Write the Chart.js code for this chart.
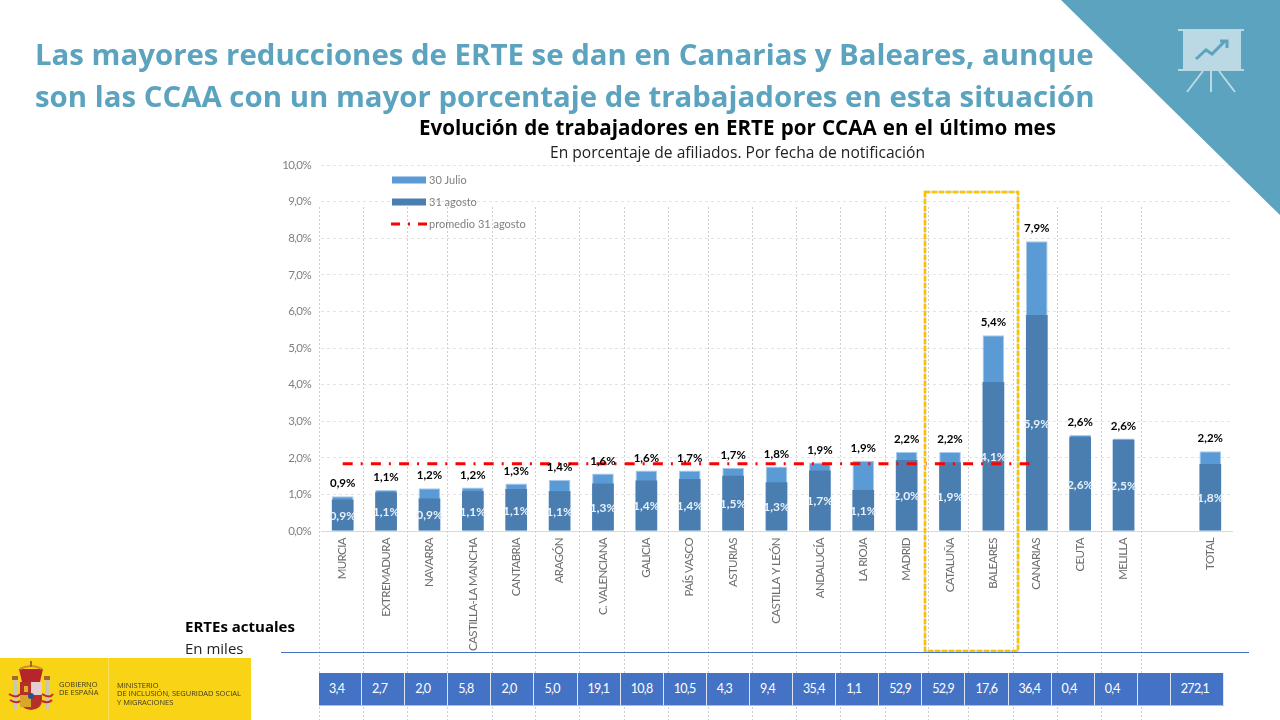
<!DOCTYPE html>
<html lang="es">
<head>
<meta charset="utf-8">
<title>ERTE por CCAA</title>
<script src="https://cdn.jsdelivr.net/npm/chart.js@4"></script>
<style>
  html, body { margin: 0; padding: 0; background: #fff; }
  #page { position: relative; width: 1280px; height: 720px; overflow: hidden; font-family: "Open Sans", sans-serif; }
  #page > * { position: absolute; }
  #chart { left: 0; top: 0; }
  .headline { left: 35px; color: #5BA3BF; font-size: 29.4px; font-weight: 700; white-space: nowrap; line-height: 40px; }
  #chart-title { left: 419px; top: 113px; font-size: 20.6px; font-weight: 700; color: #000; white-space: nowrap; line-height: 28px; word-spacing: 0.8px; }
  #chart-sub { left: 550px; top: 142px; font-size: 15.6px; color: #222; white-space: nowrap; line-height: 20px; }
  #erte-title { left: 185px; top: 616px; font-size: 15px; font-weight: 700; color: #000; line-height: 20px; }
  #erte-sub { left: 185px; top: 638px; font-size: 15px; color: #222; line-height: 20px; }
  #rule { left: 281px; top: 652px; width: 968px; height: 1px; background: #4472C4; }
  #table { left: 319px; top: 673px; height: 33px; width: 906px; display: flex; font-family: Lato, sans-serif; letter-spacing: -0.7px; }
  #table div { box-sizing: border-box; height: 33px; line-height: 31px; background: #4472C4; color: #fff; font-size: 12.5px;
    padding-left: 10px; border-right: 1px solid #DCE4F4; border-bottom: 1px solid #A9BDE3; }
  #table div.blank { width: 33px; flex: none; }
  #table div.cell { width: 43.1px; flex: none; }
  #table div.total { width: 53px; flex: none; }
  #logo { left: 0; top: 658px; width: 251px; height: 62px; background: #F8D316; }
  #logo span { position: absolute; font-family: "Open Sans", sans-serif; color: #3f3a22; font-size: 7.5px; line-height: 8.4px; white-space: nowrap; }
  #logo i { position: absolute; left: 108px; top: 0; width: 1px; height: 62px; background: #fbe25a; }
</style>
</head>
<body>
<div id="page">
  <canvas id="chart" width="1280" height="720"></canvas>
  <svg style="left:0;top:0" width="1280" height="720">
    <polygon points="1061,0 1280,0 1280,215" fill="#5BA3BF"/>
    <rect x="1183" y="29" width="58" height="41" fill="#BBD9E4"/>
    <path d="M1178 30h66M1178 70h66" stroke="#BBD9E4" stroke-width="2"/>
    <path d="M1203 71l-16 21M1211 71v21M1219 71l16 21" stroke="#BBD9E4" stroke-width="2"/>
    <path d="M1196 59l10-9 6 4 13-13" stroke="#5BA3BF" stroke-width="3" fill="none"/>
    <path d="M1220 41h7v7" stroke="#5BA3BF" stroke-width="3" fill="none"/>
  </svg>
  <div class="headline" style="top:34px">Las mayores reducciones de ERTE se dan en Canarias y Baleares, aunque</div>
  <div class="headline" style="top:76px">son las CCAA con un mayor porcentaje de trabajadores en esta situación</div>
  <div id="chart-title">Evolución de trabajadores en ERTE por CCAA en el último mes</div>
  <div id="chart-sub">En porcentaje de afiliados. Por fecha de notificación</div>
  <div id="erte-title">ERTEs actuales</div>
  <div id="erte-sub">En miles</div>
  <div id="rule"></div>
  <div id="table"></div>
  <div id="logo">
    <svg width="60" height="62" style="position:absolute;left:0;top:0">
      <rect x="13" y="21" width="4" height="30" fill="#c9c6b2"/>
      <rect x="45" y="21" width="4" height="30" fill="#c9c6b2"/>
      <rect x="12" y="18" width="6" height="4" fill="#a8662a"/>
      <rect x="44" y="18" width="6" height="4" fill="#a8662a"/>
      <path d="M19 11h24l-3 13h-18z" fill="#b5262c"/>
      <path d="M20 11q11-6 22 0" stroke="#c9922a" stroke-width="2" fill="none"/>
      <path d="M31 3v6" stroke="#a8662a" stroke-width="2"/>
      <path d="M20 24h22v18q0 9-11 10q-11-1-11-10z" fill="#b5302a"/>
      <rect x="31" y="24" width="11" height="13" fill="#e6cdd2"/>
      <rect x="20" y="37" width="11" height="12" fill="#d9a62a"/>
      <rect x="24" y="28" width="4" height="6" fill="#e0b02a"/>
      <circle cx="31" cy="38" r="3" fill="#2d4f8c"/>
      <path d="M9 36q8 5 11 0M42 36q8 5 11 0M10 42q6 4 10 1M42 43q6 3 10-1" stroke="#c0282d" stroke-width="2" fill="none"/>
    </svg>
    <span style="left:59px;top:22px">GOBIERNO<br>DE ESPAÑA</span>
    <i></i>
    <span style="left:117px;top:23px">MINISTERIO<br>DE INCLUSIÓN, SEGURIDAD SOCIAL<br>Y MIGRACIONES</span>
  </div>
</div>
<script>
const categories = ['MURCIA', 'EXTREMADURA', 'NAVARRA', 'CASTILLA-LA MANCHA', 'CANTABRIA', 'ARAGÓN', 'C. VALENCIANA', 'GALICIA', 'PAÍS VASCO', 'ASTURIAS', 'CASTILLA Y LEÓN', 'ANDALUCÍA', 'LA RIOJA', 'MADRID', 'CATALUÑA', 'BALEARES', 'CANARIAS', 'CEUTA', 'MELILLA', '', 'TOTAL'];
const julio = [0.95, 1.12, 1.17, 1.19, 1.30, 1.40, 1.57, 1.65, 1.65, 1.73, 1.76, 1.87, 1.92, 2.16, 2.16, 5.35, 7.92, 2.62, 2.53, null, 2.18];
const agosto = [0.86, 1.06, 0.89, 1.09, 1.15, 1.09, 1.30, 1.38, 1.42, 1.51, 1.33, 1.65, 1.12, 1.94, 1.88, 4.07, 5.90, 2.57, 2.49, null, 1.83];
const promedio = [1.84, 1.84, 1.84, 1.84, 1.84, 1.84, 1.84, 1.84, 1.84, 1.84, 1.84, 1.84, 1.84, 1.84, 1.84, 1.84, 1.84, null, null, null, null];
const julioLabels = ['0,9%', '1,1%', '1,2%', '1,2%', '1,3%', '1,4%', '1,6%', '1,6%', '1,7%', '1,7%', '1,8%', '1,9%', '1,9%', '2,2%', '2,2%', '5,4%', '7,9%', '2,6%', '2,6%', '', '2,2%'];
const agostoLabels = ['0,9%', '1,1%', '0,9%', '1,1%', '1,1%', '1,1%', '1,3%', '1,4%', '1,4%', '1,5%', '1,3%', '1,7%', '1,1%', '2,0%', '1,9%', '4,1%', '5,9%', '2,6%', '2,5%', '', '1,8%'];
const ertesMiles = ['3,4', '2,7', '2,0', '5,8', '2,0', '5,0', '19,1', '10,8', '10,5', '4,3', '9,4', '35,4', '1,1', '52,9', '52,9', '17,6', '36,4', '0,4', '0,4', '', '272,1'];

// the dotted column rules belong to the table behind the chart, they don't follow the categories
const columnRules = [319, 363, 407, 447, 492, 535, 579, 624, 668, 708, 752, 796, 840, 885, 928, 968, 1013, 1057, 1101, 1141];

const LIGHT = '#5B9BD5';
const DARK = '#4A7EB0';
const RED = '#FF0000';
const LINE_DASH = [10, 8, 2, 8.2];
const FONT = 'Lato, sans-serif';

const table = document.getElementById('table');
ertesMiles.forEach((v, i) => {
  const cell = document.createElement('div');
  cell.className = i === 20 ? 'total' : (v === '' ? 'blank' : 'cell');
  cell.textContent = v;
  table.appendChild(cell);
});

// axis text in the original is narrower than any installed font, so squeeze the ticks
const tightTicks = {
  id: 'tightTicks',
  beforeDraw(chart) { chart.ctx.letterSpacing = '-0.6px'; },
  beforeDatasetsDraw(chart) { chart.ctx.letterSpacing = '0px'; }
};

const backdrop = {
  id: 'backdrop',
  beforeDatasetsDraw(chart) {
    const { ctx } = chart;
    ctx.save();
    ctx.strokeStyle = '#CFCFCF';
    ctx.lineWidth = 1;
    ctx.setLineDash([2, 2]);
    columnRules.forEach(x => {
      ctx.beginPath();
      ctx.moveTo(x + 0.5, 207);
      ctx.lineTo(x + 0.5, 720);
      ctx.stroke();
    });
    ctx.restore();
  }
};

const barLabels = {
  id: 'barLabels',
  afterDatasetsDraw(chart) {
    const { ctx } = chart;
    const topBars = chart.getDatasetMeta(0).data;
    const innerBars = chart.getDatasetMeta(1).data;
    ctx.save();
    ctx.textAlign = 'center';
    ctx.textBaseline = 'middle';
    ctx.font = '700 11.5px ' + FONT;
    ctx.fillStyle = '#000';
    julioLabels.forEach((t, i) => { if (t) ctx.fillText(t, topBars[i].x, topBars[i].y - 12.5); });
    ctx.font = '700 12px ' + FONT;
    ctx.fillStyle = '#E8F1FA';
    agostoLabels.forEach((t, i) => {
      if (t) ctx.fillText(t, innerBars[i].x, (innerBars[i].y + innerBars[i].base) / 2 + 1);
    });
    ctx.restore();
  }
};

const sideLegend = {
  id: 'sideLegend',
  afterDraw(chart) {
    const { ctx } = chart;
    ctx.save();
    ctx.font = '11px ' + FONT;
    ctx.textBaseline = 'middle';
    chart.data.datasets.forEach((ds, i) => {
      const y = 180 + i * 22;
      if (ds.type === 'line') {
        ctx.strokeStyle = ds.borderColor;
        ctx.lineWidth = 3;
        ctx.setLineDash([9, 8, 2, 8]);
        ctx.beginPath();
        ctx.moveTo(391, y);
        ctx.lineTo(427, y);
        ctx.stroke();
        ctx.setLineDash([]);
      } else {
        ctx.fillStyle = ds.backgroundColor;
        ctx.fillRect(392, y - 3.5, 34, 7);
      }
      ctx.fillStyle = '#7F7F7F';
      ctx.fillText(ds.label, 429, y);
    });
    ctx.restore();
  }
};

const highlight = {
  id: 'highlight',
  afterDraw(chart) {
    const { ctx } = chart;
    ctx.save();
    ctx.lineWidth = 2.5;
    ctx.strokeStyle = '#D5E3C8';
    ctx.strokeRect(925, 192, 93, 459);
    ctx.strokeStyle = '#FFC000';
    ctx.setLineDash([5, 2]);
    ctx.strokeRect(925, 192, 93, 459);
    ctx.restore();
  }
};

new Chart(document.getElementById('chart'), {
  data: {
    labels: categories,
    datasets: [
      { type: 'bar', label: '30 Julio', data: julio, backgroundColor: LIGHT, order: 3, borderColor: '#A9CCEC', borderWidth: 1, borderSkipped: 'bottom' },
      { type: 'bar', label: '31 agosto', data: agosto, backgroundColor: DARK, order: 2 },
      { type: 'line', label: 'promedio 31 agosto', data: promedio, borderColor: RED, borderWidth: 3, borderDash: LINE_DASH, pointRadius: 0, fill: false, order: 1, spanGaps: false }
    ]
  },
  plugins: [tightTicks, backdrop, barLabels, sideLegend, highlight],
  options: {
    responsive: false,
    animation: false,
    layout: { padding: { left: 0, right: 48, top: 165, bottom: 0 } },
    datasets: { bar: { categoryPercentage: 1, barPercentage: 0.5 } },
    plugins: { legend: { display: false }, tooltip: { enabled: false }, title: { display: false } },
    scales: {
      x: {
        stacked: true,
        offset: true,
        afterFit(scale) { scale.height = 189; },
        grid: { display: false },
        border: { display: true, color: '#D9D9D9', width: 1 },
        ticks: { color: '#6E6E6E', font: { family: FONT, size: 11.5 }, minRotation: 90, maxRotation: 90, autoSkip: false, padding: -1 }
      },
      y: {
        min: 0,
        max: 10,
        afterFit(scale) { scale.width = 321; },
        grid: { color: '#E4E4E4', drawTicks: false },
        border: { display: false, dash: [3, 3] },
        ticks: {
          stepSize: 1,
          padding: 10,
          color: '#7F7F7F',
          font: { family: FONT, size: 11.5 },
          callback: v => v.toFixed(1).replace('.', ',') + '%'
        }
      }
    }
  }
});
</script>
</body>
</html>
